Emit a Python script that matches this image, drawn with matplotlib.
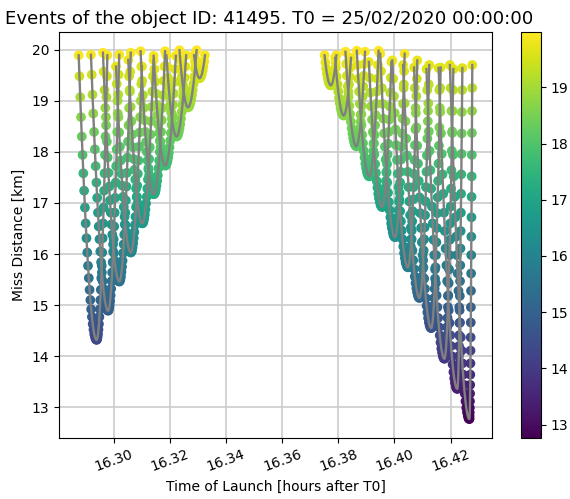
# Miss distance of each conjunction event against the launch time,
# coloured by the miss distance itself

import numpy as np
import matplotlib
matplotlib.use("Agg")
import matplotlib.pyplot as plt
from matplotlib.colors import Normalize

# launch times are sampled every second (in hours)
step_h = 1 / 3600

# first group of passes: time of closest approach [hours after T0]
tmin_left = [16.2938, 16.2979, 16.3019, 16.3060, 16.3101,
             16.3142, 16.3183, 16.3223, 16.3264, 16.3305]
# how much faster the distance grows after the closest approach than before
squeeze_left = [0.6, 0.65, 0.7, 0.75, 0.8, 0.85, 0.9, 0.95, 1.0, 1.0]
# miss distance [km] going away from the closest approach, one step apart
dist_left = [
    [14.32, 14.33, 14.37, 14.43, 14.52, 14.63, 14.77, 14.92, 15.10, 15.30, 15.53, 15.77,
     16.03, 16.31, 16.60, 16.91, 17.24, 17.58, 17.94, 18.30, 18.68, 19.07, 19.48, 19.89],
    [14.89, 14.90, 14.94, 15.00, 15.08, 15.19, 15.32, 15.47, 15.64, 15.84, 16.05, 16.29,
     16.54, 16.81, 17.10, 17.40, 17.72, 18.05, 18.39, 18.75, 19.12, 19.51, 19.90],
    [15.46, 15.47, 15.51, 15.56, 15.65, 15.75, 15.87, 16.02, 16.19, 16.38, 16.58, 16.81,
     17.05, 17.32, 17.59, 17.89, 18.20, 18.52, 18.86, 19.21, 19.57, 19.94],
    [16.03, 16.04, 16.07, 16.13, 16.21, 16.31, 16.43, 16.57, 16.73, 16.92, 17.12, 17.34,
     17.57, 17.83, 18.10, 18.38, 18.68, 19.00, 19.33, 19.67],
    [16.60, 16.61, 16.64, 16.70, 16.77, 16.87, 16.99, 17.12, 17.28, 17.46, 17.65, 17.86,
     18.09, 18.34, 18.60, 18.88, 19.18, 19.48, 19.80],
    [17.17, 17.18, 17.21, 17.26, 17.34, 17.43, 17.54, 17.68, 17.83, 18.00, 18.19, 18.39,
     18.62, 18.86, 19.11, 19.39, 19.67, 19.97],
    [17.73, 17.74, 17.77, 17.82, 17.89, 17.98, 18.09, 18.22, 18.37, 18.53, 18.72, 18.92,
     19.14, 19.37, 19.62, 19.88],
    [18.30, 18.31, 18.34, 18.39, 18.46, 18.54, 18.65, 18.78, 18.92, 19.08, 19.26, 19.45,
     19.67, 19.89],
    [18.87, 18.88, 18.91, 18.96, 19.02, 19.11, 19.21, 19.33, 19.47, 19.63, 19.80, 19.99],
    [19.44, 19.45, 19.48, 19.52, 19.59, 19.67, 19.77, 19.89],
]

# second group of passes
tmin_right = [16.3773, 16.3819, 16.3864, 16.3910, 16.3956, 16.4002,
              16.4048, 16.4089, 16.4131, 16.4178, 16.4224, 16.4267]
squeeze_right = [0.9, 0.85, 0.8, 0.75, 0.7, 0.65, 0.6, 0.6, 0.55, 0.5, 0.27, 0.15]
dist_right = [
    [19.30, 19.31, 19.34, 19.38, 19.45, 19.53, 19.63, 19.75, 19.89],
    [18.71, 18.72, 18.75, 18.80, 18.86, 18.95, 19.05, 19.18, 19.32, 19.47, 19.65, 19.84],
    [18.11, 18.12, 18.15, 18.20, 18.27, 18.36, 18.46, 18.59, 18.74, 18.90, 19.08, 19.28,
     19.49, 19.72, 19.96],
    [17.52, 17.53, 17.56, 17.61, 17.68, 17.77, 17.89, 18.02, 18.17, 18.33, 18.52, 18.72,
     18.94, 19.18, 19.43, 19.70, 19.98],
    [16.92, 16.93, 16.96, 17.02, 17.09, 17.18, 17.30, 17.43, 17.59, 17.76, 17.95, 18.16,
     18.39, 18.63, 18.89, 19.16, 19.45, 19.76],
    [16.33, 16.34, 16.37, 16.43, 16.51, 16.60, 16.72, 16.86, 17.02, 17.20, 17.40, 17.61,
     17.85, 18.10, 18.36, 18.65, 18.94, 19.25, 19.58, 19.92],
    [15.74, 15.75, 15.79, 15.84, 15.92, 16.02, 16.15, 16.29, 16.46, 16.64, 16.84, 17.07,
     17.31, 17.57, 17.84, 18.13, 18.44, 18.76, 19.09, 19.43, 19.79],
    [15.14, 15.15, 15.19, 15.25, 15.33, 15.43, 15.56, 15.71, 15.88, 16.07, 16.29, 16.52,
     16.76, 17.03, 17.31, 17.61, 17.93, 18.26, 18.60, 18.95, 19.32, 19.70],
    [14.55, 14.56, 14.60, 14.66, 14.75, 14.86, 14.99, 15.14, 15.32, 15.52, 15.74, 15.98,
     16.23, 16.51, 16.80, 17.11, 17.43, 17.77, 18.12, 18.48, 18.86, 19.25, 19.65],
    [13.95, 13.96, 14.00, 14.07, 14.15, 14.27, 14.41, 14.57, 14.75, 14.96, 15.19, 15.43,
     15.70, 15.98, 16.28, 16.60, 16.93, 17.28, 17.64, 18.02, 18.40, 18.80, 19.21, 19.62],
    [13.36, 13.37, 13.41, 13.48, 13.57, 13.69, 13.84, 14.00, 14.20, 14.41, 14.65, 14.90,
     15.18, 15.47, 15.78, 16.11, 16.45, 16.81, 17.18, 17.56, 17.96, 18.36, 18.78, 19.21,
     19.64],
    [12.77, 12.78, 12.83, 12.90, 12.99, 13.12, 13.27, 13.44, 13.64, 13.86, 14.11, 14.37,
     14.66, 14.96, 15.28, 15.62, 15.98, 16.34, 16.72, 17.12, 17.52, 17.94, 18.37, 18.80,
     19.25, 19.70],
]

title = "Events of the object ID: 41495. T0 = 25/02/2020 00:00:00"


# build every event: the profile before and after the closest approach
events = []
groups = ((tmin_left, squeeze_left, dist_left),
          (tmin_right, squeeze_right, dist_right))
for tmins, squeezes, profiles in groups:
    for tc, sq, half in zip(tmins, squeezes, profiles):
        n = len(half)
        before = tc - np.arange(n - 1, 0, -1) * step_h
        after = tc + np.arange(n) * step_h * sq
        t = np.concatenate([before, after])
        d = np.array(half[:0:-1] + half)
        events.append((t, d))

all_d = np.concatenate([d for t, d in events])
norm = Normalize(vmin=all_d.min(), vmax=all_d.max())

fig = plt.figure(figsize=(5.7, 4.99), dpi=100)
ax = fig.add_axes([0.1035, 0.1232, 0.7596, 0.8132])
cax = fig.add_axes([0.914, 0.1232, 0.035, 0.8132])

for t, d in events:
    sc = ax.scatter(t, d, c=d, cmap="viridis", norm=norm, s=36, zorder=2)
    ax.plot(t, d, color="gray", lw=1.7, zorder=3)

ax.grid(True, color="#cccccc", lw=1.2)
ax.set_axisbelow(True)
ax.tick_params(axis="x", labelrotation=20)
ax.set_xlabel("Time of Launch [hours after T0]")
ax.set_ylabel("Miss Distance [km]")
fig.text(0.472, 0.952, title, ha="center", va="baseline", fontsize=13.1)

fig.colorbar(sc, cax=cax)

fig.savefig("out.png", dpi=100)
